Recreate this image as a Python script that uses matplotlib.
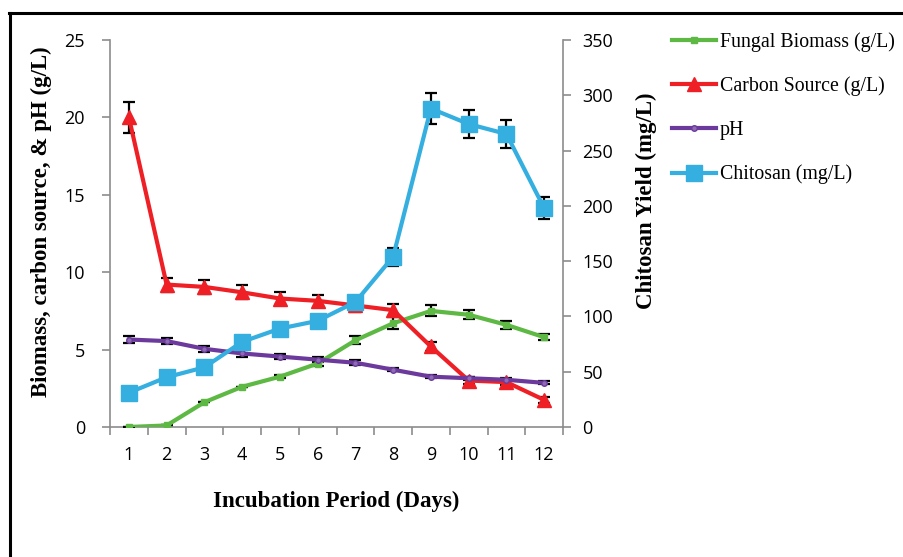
import matplotlib.pyplot as plt
from matplotlib.lines import Line2D
import numpy as np

# Data
days = np.arange(1, 13)
biomass = [0.0, 0.1, 1.6, 2.6, 3.25, 4.1, 5.6, 6.7, 7.5, 7.25, 6.6, 5.8]
biomass_err = [0, 0, 0, 0, 0.1, 0.15, 0.25, 0.4, 0.35, 0.3, 0.25, 0.2]
carbon = [20.0, 9.2, 9.05, 8.7, 8.3, 8.15, 7.85, 7.55, 5.2, 3.0, 2.9, 1.75]
carbon_err = [1.0, 0.45, 0.45, 0.45, 0.4, 0.4, 0.4, 0.4, 0.3, 0.2, 0.2, 0.2]
ph = [5.65, 5.55, 5.05, 4.75, 4.55, 4.35, 4.15, 3.7, 3.25, 3.15, 3.05, 2.85]
ph_err = [0.25, 0.2, 0.2, 0.2, 0.15, 0.15, 0.15, 0.1, 0.1, 0.1, 0.1, 0.1]
chitosan = [31, 45, 54, 77, 89, 96, 113, 154, 288, 274, 265, 198]
chitosan_err = [3, 3, 3, 3, 3, 3, 5, 8, 14, 13, 13, 10]

green = '#5DB844'
red = '#EE2026'
purple = '#6B3A9C'
blue = '#35AEE0'
grey = '#8C8C8C'

serif = 'Liberation Serif'
sans = 'Open Sans'

fig = plt.figure(figsize=(9.04, 5.57), dpi=100)
ax = fig.add_axes([0.1217, 0.2334, 0.5011, 0.6948])
ax2 = ax.twinx()

eb = dict(ecolor='black', elinewidth=1.6, capsize=4, capthick=1.6)
lw = 3.0
ax.errorbar(days, biomass, yerr=biomass_err, color=green, lw=lw, marker='s',
            ms=4, mfc=green, mec=green, zorder=3, **eb)
ax.errorbar(days, carbon, yerr=carbon_err, color=red, lw=lw, marker='^',
            ms=10, mfc=red, mec=red, zorder=3, **eb)
ax.errorbar(days, ph, yerr=ph_err, color=purple, lw=lw, marker='o',
            ms=4, mfc='#8E6BB5', mec=purple, zorder=3, **eb)
ax2.errorbar(days, chitosan, yerr=chitosan_err, color=blue, lw=lw, marker='s',
             ms=11, mfc=blue, mec=blue, zorder=3, **eb)

ax.set_xlim(0.5, 12.5)
ax.set_ylim(0, 25)
ax2.set_ylim(0, 350)
ax.set_yticks(np.arange(0, 26, 5))
ax2.set_yticks(np.arange(0, 351, 50))
ax.set_xticks(days)
ax.set_xticks(np.arange(0.5, 12.6, 1), minor=True)
ax.tick_params(axis='x', which='major', length=0, pad=14)
ax.tick_params(axis='x', which='minor', length=6, color=grey, width=1.2)

for a in (ax, ax2):
    for s in a.spines.values():
        s.set_visible(False)
    a.tick_params(axis='y', length=6, color=grey, width=1.2, labelsize=13, pad=12)
    for lab in a.get_yticklabels():
        lab.set_fontfamily(sans)
ax2.tick_params(axis='y', pad=8)
ax.spines['left'].set_visible(True)
ax.spines['left'].set_color(grey)
ax.spines['left'].set_linewidth(1.2)
ax.spines['bottom'].set_visible(True)
ax.spines['bottom'].set_color(grey)
ax.spines['bottom'].set_linewidth(1.2)
ax2.spines['right'].set_visible(True)
ax2.spines['right'].set_color(grey)
ax2.spines['right'].set_linewidth(1.2)
ax.tick_params(axis='x', labelsize=13)
for lab in ax.get_xticklabels():
    lab.set_fontfamily(sans)

ax.set_xlabel('Incubation Period (Days)', fontfamily=serif, fontweight='bold',
              fontsize=16.5, labelpad=19)
ax.set_ylabel('Biomass, carbon source, & pH (g/L)', fontfamily=serif,
              fontweight='bold', fontsize=16.5)
ax.yaxis.set_label_coords(-0.128, 0.53)
ax2.set_ylabel('Chitosan Yield (mg/L)', fontfamily=serif, fontweight='bold',
               fontsize=16.5)
ax2.yaxis.set_label_coords(1.161, 0.585)

handles = [
    Line2D([], [], color=green, lw=lw, marker='s', ms=4, mfc=green, mec=green),
    Line2D([], [], color=red, lw=lw, marker='^', ms=10, mfc=red, mec=red),
    Line2D([], [], color=purple, lw=lw, marker='o', ms=4, mfc='#8E6BB5', mec=purple),
    Line2D([], [], color=blue, lw=lw, marker='s', ms=11, mfc=blue, mec=blue),
]
labels = ['Fungal Biomass (g/L)', 'Carbon Source (g/L)', 'pH', 'Chitosan (mg/L)']
fig.legend(handles, labels, loc='upper left', bbox_to_anchor=(0.724, 0.975),
           frameon=False, prop={'family': serif, 'size': 14.3},
           handlelength=2.2, handletextpad=0.2, labelspacing=1.25)

# frame lines at top and left of the figure
fig.add_artist(Line2D([0.010, 1.0], [0.977, 0.977], color='black', lw=2.2,
                      transform=fig.transFigure))
fig.add_artist(Line2D([0.011, 0.011], [0.0, 0.977], color='black', lw=2.2,
                      transform=fig.transFigure))

fig.savefig('out.png', dpi=100)
